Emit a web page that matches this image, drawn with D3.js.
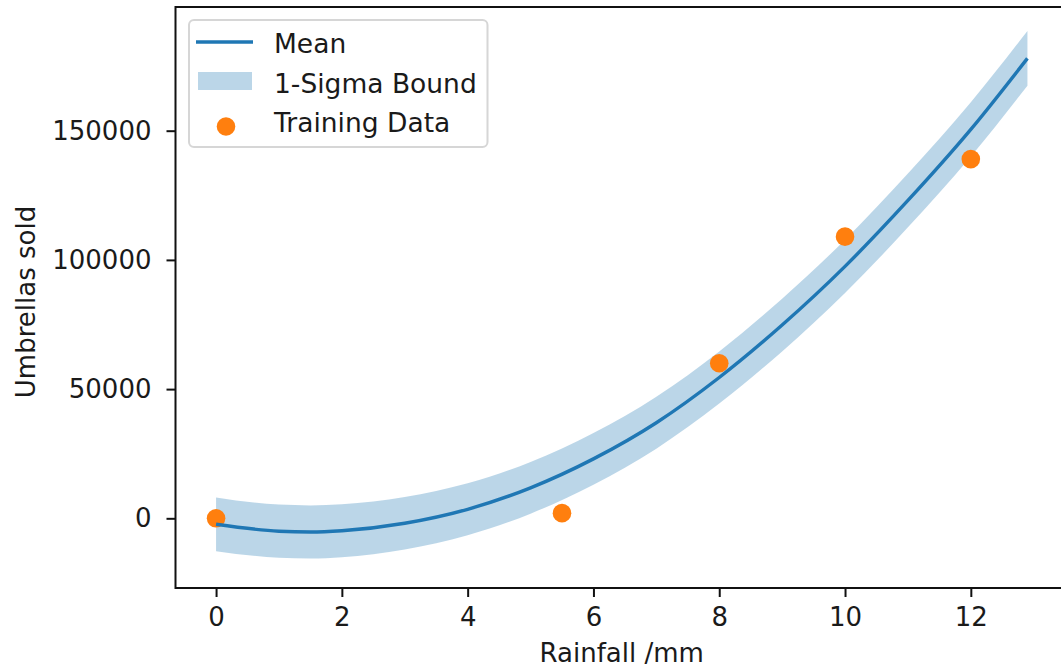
<!DOCTYPE html>
<html>
<head>
<meta charset="utf-8">
<script src="https://cdn.jsdelivr.net/npm/d3@7"></script>
<style>
  html, body { margin: 0; padding: 0; background: #fff; overflow: hidden; }
  svg { display: block; }
  text { font-family: "DejaVu Sans", sans-serif; fill: #1a1a1a; }
</style>
</head>
<body>
<svg id="chart" width="1061" height="670"></svg>
<script>
// Posterior mean of the fitted model, sampled along rainfall (mm)
const curveX    = [0, 1, 1.5, 2, 3, 4, 5, 6, 7, 8, 9, 10, 11, 12, 12.9];
const curveMean = [-2300, -5000, -5300, -4800, -1900, 3500, 11800, 23000, 37000, 54500, 74800, 97500, 123000, 150500, 178000];
const curveSd   = [10400, 10300, 10300, 10250, 10150, 10050, 10000, 10000, 10050, 10100, 10200, 10300, 10400, 10500, 10600];

// Observed training points
const trainX = [0, 5.5, 8, 10, 12];
const trainY = [0, 2000, 60000, 109000, 139000];

// Axis ticks and labels
const xTicks = [0, 2, 4, 6, 8, 10, 12];
const yTicks = [0, 50000, 100000, 150000];
const xLabel = "Rainfall /mm";
const yLabel = "Umbrellas sold";
const legendLabels = ["Mean", "1-Sigma Bound", "Training Data"];

const C_BLUE = "#1f77b4";
const C_ORANGE = "#ff7f0e";

const svg = d3.select("#chart");

const plot = { left: 175.5, right: 1068, top: 7, bottom: 588 };

const x = d3.scaleLinear().domain([-0.645, 13.545]).range([plot.left, plot.right]);
const y = d3.scaleLinear().domain([-26970, 197870]).range([plot.bottom, plot.top]);

const rows = curveX.map((d, i) => ({ x: d, m: curveMean[i], s: curveSd[i] }));

// 1-sigma band
const band = d3.area()
  .x(d => x(d.x))
  .y0(d => y(d.m - d.s))
  .y1(d => y(d.m + d.s))
  .curve(d3.curveMonotoneX);

svg.append("path")
  .datum(rows)
  .attr("d", band)
  .attr("fill", C_BLUE)
  .attr("fill-opacity", 0.3);

// Training data
svg.append("g").selectAll("circle")
  .data(trainX.map((d, i) => [d, trainY[i]]))
  .join("circle")
  .attr("cx", d => x(d[0]))
  .attr("cy", d => y(d[1]))
  .attr("r", 9.3)
  .attr("fill", C_ORANGE);

// Mean line
const line = d3.line()
  .x(d => x(d.x))
  .y(d => y(d.m))
  .curve(d3.curveMonotoneX);

svg.append("path")
  .datum(rows)
  .attr("d", line)
  .attr("fill", "none")
  .attr("stroke", C_BLUE)
  .attr("stroke-width", 3.4);

// Axes
const xAxis = svg.append("g")
  .attr("transform", `translate(0,${plot.bottom})`)
  .call(d3.axisBottom(x).tickValues(xTicks).tickSize(9).tickPadding(11).tickFormat(d3.format("d")));
const yAxis = svg.append("g")
  .attr("transform", `translate(${plot.left},0)`)
  .call(d3.axisLeft(y).tickValues(yTicks).tickSize(9).tickPadding(15).tickFormat(d3.format("d")));

[xAxis, yAxis].forEach(g => {
  g.select(".domain").remove();
  g.selectAll(".tick line").attr("stroke", "#111").attr("stroke-width", 2);
  g.selectAll(".tick text").attr("font-size", 26).attr("fill", "#1a1a1a")
    .style("font-family", "'DejaVu Sans', sans-serif");
});

// Frame
svg.append("rect")
  .attr("x", plot.left).attr("y", plot.top)
  .attr("width", plot.right - plot.left).attr("height", plot.bottom - plot.top)
  .attr("fill", "none").attr("stroke", "#111").attr("stroke-width", 2);

// Axis titles
svg.append("text")
  .attr("x", (plot.left + plot.right) / 2).attr("y", 662)
  .attr("text-anchor", "middle").attr("font-size", 26)
  .text(xLabel);

svg.append("text")
  .attr("transform", `translate(35,302) rotate(-90)`)
  .attr("text-anchor", "middle").attr("font-size", 26)
  .text(yLabel);

// Legend
const lg = svg.append("g");
lg.append("rect")
  .attr("x", 189).attr("y", 20).attr("width", 298.5).attr("height", 127)
  .attr("rx", 5).attr("fill", "#fff").attr("fill-opacity", 0.8)
  .attr("stroke", "#d6d6d6").attr("stroke-width", 2);

lg.append("line")
  .attr("x1", 196).attr("x2", 253).attr("y1", 42).attr("y2", 42)
  .attr("stroke", C_BLUE).attr("stroke-width", 3.4);
lg.append("rect")
  .attr("x", 198).attr("y", 72).attr("width", 54).attr("height", 18)
  .attr("fill", C_BLUE).attr("fill-opacity", 0.3);
lg.append("circle")
  .attr("cx", 226).attr("cy", 126.5).attr("r", 9.3).attr("fill", C_ORANGE);

const legendY = [53, 93, 132];
legendLabels.forEach((t, i) => {
  lg.append("text").attr("x", 274).attr("y", legendY[i]).attr("font-size", 26.5).text(t);
});
</script>
</body>
</html>
